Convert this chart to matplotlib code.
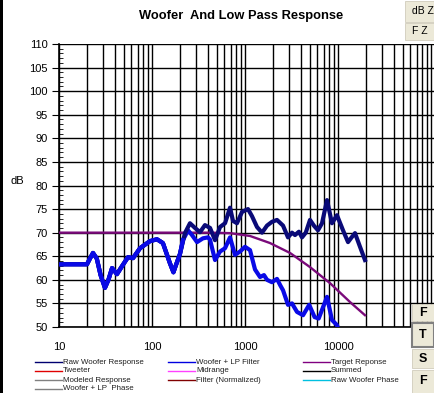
import numpy as np
import matplotlib.pyplot as plt
from matplotlib.patches import Rectangle
from matplotlib.ticker import FixedLocator, NullFormatter

plt.rcParams['font.family'] = ['Liberation Sans', 'DejaVu Sans']

# --- data ---
blue_freq = [10, 20, 21.5, 23.2, 25.5, 28, 31.2, 34, 37.2, 42, 48, 55.2, 62.5, 74.3, 95,
             113, 131, 156, 170, 180, 200, 215, 244, 269, 305, 353, 400, 421, 476, 539,
             610, 690, 780, 884, 1000, 1132, 1281, 1450, 1600, 1725, 1950, 2208, 2400, 2563, 2900,
             3200, 3625, 4209, 4900, 5600, 6200, 7620, 8610, 9750, 10500, 11000]
blue_db = [63.3, 63.3, 64.5, 65.7, 64.5, 61.0, 58.3, 60.0, 62.5, 61.2, 63.0, 64.8, 64.6, 66.7, 68.2,
           68.6, 67.8, 63.5, 61.6, 63.0, 65.5, 68.4, 70.5, 69.5, 68.0, 68.8, 69.0, 68.5, 64.2, 66.0,
           66.7, 69.0, 65.3, 66.0, 67.0, 66.3, 62.2, 60.6, 61.0, 60.0, 59.5, 60.2, 58.8, 57.8, 54.7,
           55.0, 53.2, 52.5, 54.7, 52.1, 51.8, 56.4, 51.5, 50.4, 48.5, 47.0]

raw_freq = [10, 20, 21.5, 23.2, 25.5, 28, 31.2, 34, 37.2, 42, 48, 55.2, 62.5, 74.3, 95,
            113, 131, 156, 170, 180, 200, 226, 256, 290, 328, 371, 421, 476, 539, 610,
            690, 743, 820, 929, 1077, 1189, 1346, 1524, 1725, 1950, 2208, 2563, 2900, 3200, 3450,
            3800, 4100, 4500, 5000, 5500, 6094, 6730, 7620, 8610, 9750, 11320, 12820, 14000, 15230,
            17250, 19500]
raw_db = [63.3, 63.3, 64.5, 65.7, 64.5, 61.0, 58.3, 60.0, 62.5, 61.2, 63.0, 64.8, 64.6, 66.7, 68.2,
          68.6, 67.8, 63.5, 61.6, 63.0, 65.5, 69.9, 72.0, 71.0, 70.1, 71.6, 71.0, 68.4, 71.2, 72.0,
          75.3, 72.5, 72.0, 74.4, 75.0, 73.5, 71.2, 70.0, 71.5, 72.3, 72.7, 71.5, 69.0, 70.0, 69.5,
          70.2, 69.0, 70.0, 72.7, 71.5, 70.5, 72.0, 76.9, 72.0, 73.7, 70.5, 68.0, 69.0, 69.9,
          67.0, 64.2]

target_freq = [10, 300, 421, 690, 1132, 1857, 3048, 5000, 8200, 13450, 19500]
target_db = [70.0, 70.0, 70.0, 69.9, 69.3, 67.8, 65.7, 62.7, 59.3, 55.3, 52.5]

y_ticks = list(range(50, 111, 5))
x_labels = ['10', '100', '1000', '10000', '']
x_major = [10, 100, 1000, 10000, 100000]

legend_labels = ['Raw Woofer Response', 'Woofer + LP Filter', 'Target Reponse',
                 'Tweeter', 'Midrange', 'Summed',
                 'Modeled Response', 'Filter (Normalized)', 'Raw Woofer Phase',
                 'Woofer + LP  Phase']
legend_colors = ['#000070', '#0000e0', '#800080',
                 '#e00000', '#ff40ff', '#000000',
                 '#808080', '#800000', '#00c0e0',
                 '#808080']

button_labels = ['dB Z', 'F Z', 'F', 'T', 'S', 'F']

W, H = 434, 393
fig = plt.figure(figsize=(W / 100, H / 100), dpi=100)
fig.patch.set_facecolor('white')

ax = fig.add_axes([59 / W, 1 - 327 / H, (434 - 59) / W, (327 - 44) / H])
ax.set_xscale('log')
ax.set_xlim(10, 10 ** (1 + (434 - 59) / 93))
ax.set_ylim(50, 110)

minor = [m * 10 ** e for e in range(1, 5) for m in range(2, 10)]
ax.xaxis.set_major_locator(FixedLocator(x_major))
ax.xaxis.set_minor_locator(FixedLocator(minor))
ax.xaxis.set_minor_formatter(NullFormatter())
ax.set_xticklabels(x_labels)
ax.set_yticks(y_ticks)
ax.set_yticks(np.arange(50, 111, 1), minor=True)
ax.tick_params(axis='x', which='both', length=0, pad=11, labelsize=8)
ax.tick_params(axis='y', which='major', direction='out', length=5, labelsize=8, pad=3)
ax.tick_params(axis='y', which='minor', direction='in', length=3)
ax.grid(True, which='both', axis='x', color='black', linewidth=1.0)
ax.grid(True, which='major', axis='y', color='black', linewidth=1.0)
for s in ['top', 'right']:
    ax.spines[s].set_visible(False)
ax.spines['left'].set_linewidth(1.2)
ax.spines['bottom'].set_linewidth(1.2)
ax.set_ylabel('dB', rotation=0, fontsize=8)
ax.yaxis.set_label_coords(-0.11, 0.5)

ax.plot(target_freq, target_db, color='#7a0a7a', linewidth=1.7, zorder=3)
ax.plot(blue_freq, blue_db, color='#0a0ae6', linewidth=3.0, zorder=4, solid_joinstyle='round')
ax.plot(raw_freq, raw_db, color='#0a0a78', linewidth=3.0, zorder=5, solid_joinstyle='round')
ax.plot(blue_freq[:22], blue_db[:22], color='#0a0ae6', linewidth=3.0, zorder=6,
        solid_joinstyle='round')

fig.text(241 / W, 1 - 16 / H, 'Woofer  And Low Pass Response', ha='center', va='center',
         fontsize=9.3, fontweight='bold')

# legend drawn by hand in three columns
col_x = [35, 168, 303]
row_y = [362, 371, 380, 389]
for i, (lab, col) in enumerate(zip(legend_labels, legend_colors)):
    cx = col_x[i % 3]
    ry = 1 - row_y[i // 3] / H
    fig.add_artist(plt.Line2D([cx / W, (cx + 27) / W], [ry, ry], color=col, linewidth=1.0))
    fig.text((cx + 28) / W, ry, lab, ha='left', va='center', fontsize=5.7, color='#202020')

# left window border
fig.add_artist(Rectangle((0, 0), 3 / W, 1, transform=fig.transFigure, facecolor='black',
                         edgecolor='none'))

# window buttons on the right (clipped by the window edge, as in the reference)
btns = [(405, 1, 22), (405, 23, 40), (412, 304, 321), (412, 323, 347), (412, 349, 368), (412, 370, 393)]
for (bx, by0, by1), lab in zip(btns, button_labels):
    pressed = lab == 'T'
    fig.add_artist(Rectangle((bx / W, 1 - by1 / H), (W - bx) / W, (by1 - by0) / H,
                             transform=fig.transFigure, facecolor='#ece9d8',
                             edgecolor='#808080' if pressed else '#d0ccbc',
                             linewidth=1.5 if pressed else 0.6, zorder=10))
    big = len(lab) == 1
    fig.text((bx + 7) / W, 1 - (by0 + by1) / 2 / H, lab, ha='left', va='center',
             fontsize=9 if big else 7.5, fontweight='bold' if big else 'normal', zorder=11)

fig.savefig('out.png', dpi=100)
